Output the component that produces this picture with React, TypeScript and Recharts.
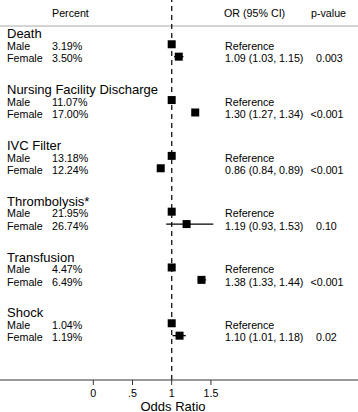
import React from 'react';
import { ScatterChart, Scatter, XAxis, YAxis, ReferenceLine, ErrorBar } from 'recharts';

const outcomes = ['Death', 'Nursing Facility Discharge', 'IVC Filter', 'Thrombolysis*', 'Transfusion', 'Shock'];
const malePercent = [3.19, 11.07, 13.18, 21.95, 4.47, 1.04];
const femalePercent = [3.5, 17.0, 12.24, 26.74, 6.49, 1.19];
const maleOR = [1, 1, 1, 1, 1, 1];
const femaleOR = [1.09, 1.3, 0.86, 1.19, 1.38, 1.1];
const femaleLow = [1.03, 1.27, 0.84, 0.93, 1.33, 1.01];
const femaleHigh = [1.15, 1.34, 0.89, 1.53, 1.44, 1.18];
const pValues = ['0.003', '<0.001', '<0.001', '0.10', '<0.001', '0.02'];
const xTicks = [0, 0.5, 1, 1.5];
const headers = ['Percent', 'OR (95% CI)', 'p-value'];
const sexLabels = ['Male', 'Female'];
const referenceText = 'Reference';
const axisTitle = 'Odds Ratio';

// layout (row units)
const W = 358;
const H = 412;
const GROUP = 4.5;
const HEADER_Y = 1.05;
const DIVIDER_Y = 2.1;
const TITLE_OFF = 2.82;
const MALE_OFF = 3.57;
const FEMALE_OFF = 4.57;
const Y_MAX = 380 / 12.4;
const FONT = '"Liberation Sans", Arial, Helvetica, sans-serif';

const COL_LABEL = 7;
const COL_PCT = 52;
const COL_OR = 225;
const COL_P = 316;
const COL_PLT = 310.5;
const COL_PHEAD = 311;

const fmtPct = (v: number) => `${v.toFixed(2)}%`;
const fmtOR = (o: number, l: number, h: number) => `${o.toFixed(2)} (${l.toFixed(2)}, ${h.toFixed(2)})`;

const maleData = outcomes.map((_, g) => ({ x: maleOR[g], y: g * GROUP + MALE_OFF }));
const femaleData = outcomes.map((_, g) => ({
  x: femaleOR[g],
  y: g * GROUP + FEMALE_OFF,
  err: [femaleOR[g] - femaleLow[g], femaleHigh[g] - femaleOR[g]],
}));

type TextRow = { x: number; y: number; kind: string; g: number };
const textRows: TextRow[] = [{ x: 1, y: HEADER_Y, kind: 'header', g: -1 }];
outcomes.forEach((_, g) => {
  textRows.push({ x: 1, y: g * GROUP + TITLE_OFF, kind: 'title', g });
  textRows.push({ x: 1, y: g * GROUP + MALE_OFF, kind: 'male', g });
  textRows.push({ x: 1, y: g * GROUP + FEMALE_OFF, kind: 'female', g });
});

const SMALL = 10.7;

const TextShape = (props: any) => {
  const { cy, payload } = props;
  const common = { fontFamily: FONT, fill: '#000' };
  if (payload.kind === 'header') {
    const b = cy + 3.8;
    return (
      <g>
        <text x={COL_PCT} y={b} fontSize={SMALL} {...common}>{headers[0]}</text>
        <text x={COL_OR - 1} y={b} fontSize={SMALL} {...common}>{headers[1]}</text>
        <text x={COL_PHEAD} y={b} fontSize={SMALL} {...common}>{headers[2]}</text>
      </g>
    );
  }
  const g = payload.g;
  if (payload.kind === 'title') {
    return (
      <text x={COL_LABEL} y={cy + 3.4} fontSize={13} {...common}>{outcomes[g]}</text>
    );
  }
  const b = cy + 5.8;
  if (payload.kind === 'male') {
    return (
      <g>
        <text x={COL_LABEL} y={b} fontSize={SMALL} {...common}>{sexLabels[0]}</text>
        <text x={COL_PCT} y={b} fontSize={SMALL} {...common}>{fmtPct(malePercent[g])}</text>
        <text x={COL_OR} y={b} fontSize={SMALL} {...common}>{referenceText}</text>
      </g>
    );
  }
  const p = pValues[g];
  const lt = p.startsWith('<');
  return (
    <g>
      <text x={COL_LABEL} y={b} fontSize={SMALL} {...common}>{sexLabels[1]}</text>
      <text x={COL_PCT} y={b} fontSize={SMALL} {...common}>{fmtPct(femalePercent[g])}</text>
      <text x={COL_OR} y={b} fontSize={SMALL} {...common}>{fmtOR(femaleOR[g], femaleLow[g], femaleHigh[g])}</text>
      <text x={lt ? COL_PLT : COL_P} y={b} fontSize={SMALL} {...common}>{p}</text>
    </g>
  );
};

const SquareShape = (props: any) => {
  const { cx, cy } = props;
  return <rect x={cx - 4} y={cy - 4} width={8} height={8} fill="#000" />;
};

const AxisLabel = (props: any) => {
  const vb = props.viewBox || { x: 0, y: 380, width: W, height: 32 };
  return (
    <text
      x={vb.x + vb.width / 2 - 6}
      y={vb.y + vb.height - 1.5}
      textAnchor="middle"
      fontSize={13}
      fontFamily={FONT}
      fill="#000"
    >
      {axisTitle}
    </text>
  );
};

export default function App() {
  return (
    <div style={{ position: 'absolute', left: 0, top: 0, width: W, height: H, background: '#fff' }}>
      <ScatterChart width={W} height={H} margin={{ top: 0, right: 0, bottom: 0, left: 0 }}>
        <XAxis
          type="number"
          dataKey="x"
          domain={[-93.3 / 78.4, (W - 93.3) / 78.4]}
          ticks={xTicks}
          tickFormatter={(v: number) => (v === 0 ? '0' : String(v).replace(/^0\./, '.'))}
          height={32}
          tickSize={5}
          tickMargin={4}
          axisLine={{ stroke: '#333', strokeWidth: 1 }}
          tickLine={{ stroke: '#333', strokeWidth: 1 }}
          tick={{ fontSize: SMALL, fill: '#000', fontFamily: FONT }}
          allowDataOverflow
          label={<AxisLabel />}
        />
        <YAxis type="number" dataKey="y" domain={[0, Y_MAX]} reversed hide allowDataOverflow />
        <ReferenceLine y={DIVIDER_Y} stroke="#aaa" strokeWidth={1} />
        <ReferenceLine x={1} stroke="#222" strokeWidth={1.4} strokeDasharray="5 4" />
        <Scatter data={textRows} shape={TextShape} isAnimationActive={false} />
        <Scatter data={maleData} shape={SquareShape} isAnimationActive={false} />
        <Scatter data={femaleData} shape={SquareShape} isAnimationActive={false}>
          <ErrorBar dataKey="err" direction="x" width={0} stroke="#000" strokeWidth={1.3} />
        </Scatter>
      </ScatterChart>
    </div>
  );
}
